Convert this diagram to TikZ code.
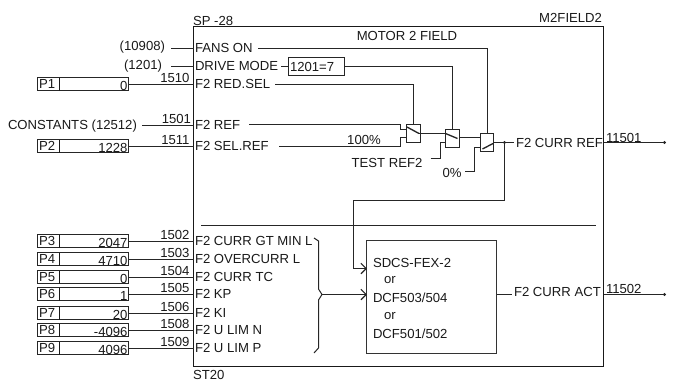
\documentclass[tikz,border=0pt]{standalone}
\usepackage{fontspec}
\setmainfont{Liberation Sans}
\usetikzlibrary{arrows.meta}
\definecolor{ln}{gray}{0.15}
\tikzset{
  x=0.75pt,y=-0.75pt,
  every node/.style={inner sep=0pt,outer sep=0pt,font=\fontsize{9.85}{11}\selectfont,text=black!90},
  wire/.style={draw=ln,line width=0.75pt},
  frame/.style={draw=black!90,line width=0.8pt},
  sw/.style={draw=black!85,line width=0.8pt,minimum width=10.5pt,minimum height=13.5pt},
  lbl/.style={anchor=west},
  open/.style={-{Straight Barb[length=4pt,width=8pt,line width=0.8pt]}}
}
\newcommand{\param}[5]{% id, y, value, number, text
  \node[draw=black!85,line width=0.8pt,minimum width=68.25pt,minimum height=9.75pt,anchor=west] (#1box) at (37.5,#2-0.5) {};
  \draw[frame] (59.5,#2-7) -- (59.5,#2+6);
  \node[lbl] (#1name) at (39,#2-0.5) {#1};
  \node[anchor=base east] (#1val) at (127.5,#2+5.5) {#3};
  \node[anchor=base east] (#1num) at (189.5,#2-2.5) {#4};
  \node[lbl] (#1in) at (195,#2-0.5) {#5};
  \draw[wire] (#1box.east |- 0,#2) -- (193.5,#2);
}
\begin{document}
\begin{tikzpicture}
\useasboundingbox (0,0) rectangle (676,383);
\node[frame,minimum width=307.5pt,minimum height=255pt,anchor=north west] (main) at (193.5,26.5) {};
\node[anchor=base west] (sp) at (193,25.5) {SP -28};
\node[anchor=base east] (m2) at (602,22) {M2FIELD2};
\node (title) at (407,36) {MOTOR 2 FIELD};
\node[anchor=base west] (st) at (193,379) {ST20};
% upper inputs
\node[anchor=east] (s1) at (165,47.5) {(10908)};
\node[anchor=east] (s2) at (162,66) {(1201)};
\node[lbl] (fans) at (195,48) {FANS ON};
\node[lbl] (drive) at (195,66) {DRIVE MODE};
\coordinate (s1e) at (171,48.5);
\coordinate (s2e) at (171,66.5);
\draw[wire] (s1e) -- (193.5,48.5);
\draw[wire] (s2e) -- (193.5,66.5);
\node[draw=black!85,line width=0.8pt,minimum width=42pt,minimum height=13.5pt,anchor=west] (cmp) at (288.5,66.5) {};
\node[anchor=west] (cmpt) at (290,66.5) {1201=7};
\coordinate (dme) at (281,66.5);
\draw[wire] (dme) -- (cmp.west);
% P1, P2
\param{P1}{84.5}{0}{1510}{F2 RED.SEL}
\param{P2}{146.5}{1228}{1511}{F2 SEL.REF}
\node[anchor=base west] (const) at (8,129.5) {CONSTANTS (12512)};
\node[anchor=base east] (n1501) at (191,123) {1501};
\node[lbl] (ref) at (195,125) {F2 REF};
\coordinate (conste) at (142,125.5);
\draw[wire] (conste) -- (193.5,125.5);
% switches
\node[sw,anchor=north west] (A) at (406.5,124.5) {};
\node[sw,anchor=north west] (B) at (445.5,129.5) {};
\node[sw,anchor=north west,minimum width=9.75pt] (C) at (480.5,133.5) {};
\node (pct) at (364,140) {100\%};
\node (test) at (387,163) {TEST REF2};
\node (zero) at (452,173) {0\%};
\node[lbl] (ref2) at (516,143) {F2 CURR REF};
\node[anchor=base west] (n501) at (606,142) {11501};
\node[lbl] (act) at (514,292) {F2 CURR ACT};
\node[anchor=base west] (n502) at (606,293) {11502};
% lines to switches
\draw[wire] (258,48.5) -| (487.5,133.5);
\draw[wire] (cmp.east) -| (452.5,129.5);
\draw[wire] (275,84.5) -| (413.5,124.5);
\draw[wire] (249,124.5) -- (400.5,124.5) -- (400.5,129.5) -- (406.5,129.5);
\draw[wire] (279,146.5) -- (400.5,146.5) -- (400.5,137.5) -- (406.5,137.5);
\draw[wire] (419,133.5) -- (445.5,133.5);
\draw[wire] (459.5,137.5) -- (480.5,137.5);
\draw[wire] (430.5,158.5) -- (440.5,158.5) -- (440.5,142.5) -- (445.5,142.5);
\draw[wire] (465,171.5) -- (474.5,171.5) -- (474.5,147.5) -- (480.5,147.5);
% wipers
\draw[wire,line width=1pt] (407,127) -- (419,133.5);
\draw[wire,line width=1pt] (445.5,133.5) -- (457.5,138.5);
\draw[wire,line width=1pt] (482.5,149) -- (493,143.5);
% outputs
\draw[wire] (493.5,142.5) -- (514,142.5);
\fill[ln] (504.5,142.5) circle (1.2pt);
\fill[ln] (664.5,142.5) circle (1.2pt);
\draw[wire] (604,142.5) -- (664.5,142.5);
% lower part
\draw[wire] (201,225.5) -- (596,225.5);
\node[frame,draw=black!80,minimum width=97.5pt,minimum height=84.75pt,anchor=north west] (fex) at (366.5,240.5) {};
\draw[wire] (504.5,142.5) -- (504.5,200.5) -- (353.5,200.5) -- (353.5,268.5) coordinate (fb);
\draw[wire,open] (fb) -- (367,268.5);
\node[anchor=west] (t1) at (373,263) {SDCS-FEX-2};
\node[anchor=west] (t2) at (384,280) {or};
\node[anchor=west] (t3) at (373,298) {DCF503/504};
\node[anchor=west] (t4) at (384,316) {or};
\node[anchor=west] (t5) at (373,334) {DCF501/502};
\draw[wire] (fex.east |- 0,294.5) -- (512,294.5);
\draw[wire] (604,294.5) -- (664.5,294.5);
\fill[ln] (664.5,294.5) circle (1.2pt);
% parameters
\param{P3}{241.5}{2047}{1502}{F2 CURR GT MIN L}
\param{P4}{259.5}{4710}{1503}{F2 OVERCURR L}
\param{P5}{277.5}{0}{1504}{F2 CURR TC}
\param{P6}{294.5}{1}{1505}{F2 KP}
\param{P7}{313.5}{20}{1506}{F2 KI}
\param{P8}{330.5}{-4096}{1508}{F2 U LIM N}
\param{P9}{348.5}{4096}{1509}{F2 U LIM P}
% brace
\draw[wire] (314,238) -- (318.5,241) -- (318.5,289) -- (322,294.5) -- (318.5,300) -- (318.5,348) -- (314,353);
\draw[wire,open] (322,294.5) -- (367,294.5);
\end{tikzpicture}
\end{document}
